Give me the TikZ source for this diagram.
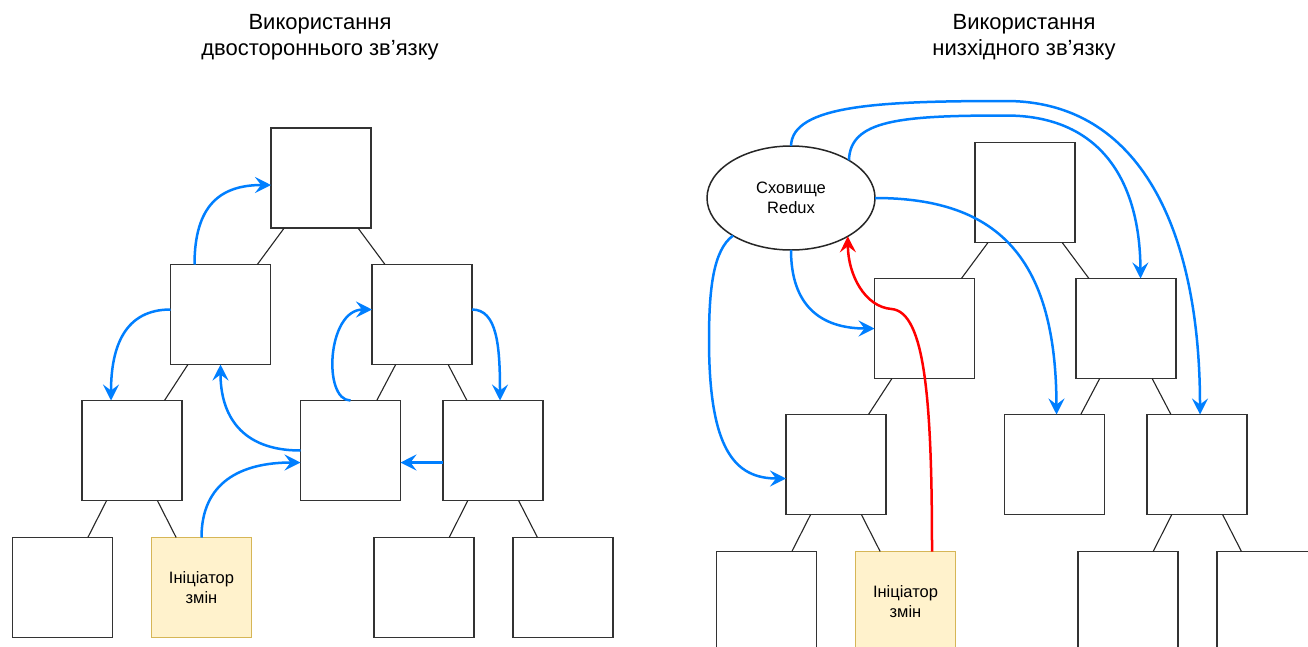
\documentclass[tikz,border=0pt]{standalone}
\usepackage{fontspec}
\setmainfont{Liberation Sans}
\usetikzlibrary{arrows.meta,calc,shapes.geometric}
\definecolor{flowblue}{HTML}{007FFF}
\definecolor{notefill}{HTML}{FFF2CC}
\definecolor{notedraw}{HTML}{D6B656}
\definecolor{boxline}{HTML}{333333}
\newcommand\ttlfont{\fontsize{22}{26.5}\selectfont}
\newcommand\ndfont{\fontsize{16.5}{20}\selectfont}
\begin{document}
\begin{tikzpicture}[x=1pt,y=-1pt,
  box/.style={draw=boxline, line width=1.6pt, fill=white, minimum width=100pt,
    minimum height=100pt, inner sep=0pt, outer sep=0pt},
  starter/.style={box, draw=notedraw, fill=notefill, font=\ndfont, align=center},
  store/.style={ellipse, draw=black!85, line width=1.5pt, fill=white,
    minimum width=168pt, minimum height=104pt, inner sep=0pt, outer sep=0pt,
    font=\ndfont, align=center},
  link/.style={draw=black!85, line width=1.1pt},
  flow/.style={draw=flowblue, line width=2.5pt,
    -{Stealth[length=16pt,width=16pt,inset=6pt]}},
  push/.style={flow, draw=red},
  heading/.style={align=center, font=\ttlfont},
]
\useasboundingbox (0,0) rectangle (1308,646);
\clip (0,0) rectangle (1308,646);
\fill[white] (0,0) rectangle (1308,646);

% ---------- headings ----------
\node[heading] (h1) at (320,37) {Використання\\двостороннього зв’язку};
\node[heading] (h2) at (1024,37) {Використання\\низхідного зв’язку};

% ---------- two-way binding tree ----------
\node[box] (t)  at (321,178) {};
\node[box] (l1) at (220.5,314.5) {};
\node[box] (r1) at (422,314.5) {};
\node[box] (ll) at (132,450.5) {};
\node[box] (m)  at (350.5,450.5) {};
\node[box] (rr) at (493,450.5) {};
\node[box] (b1) at (62.5,587.5) {};
\node[starter] (ini) at (201.5,587.5) {Ініціатор\\змін};
\node[box] (b3) at (424,587.5) {};
\node[box] (b4) at (563,587.5) {};

\draw[link] (t) -- (l1);
\draw[link] (t) -- (r1);
\draw[link] (l1) -- (ll);
\draw[link] (r1) -- (m);
\draw[link] (r1) -- (rr);
\draw[link] (ll) -- (b1);
\draw[link] (ll) -- (ini);
\draw[link] (rr) -- (b3);
\draw[link] (rr) -- (b4);

\draw[flow] ($(l1.north)+(-26,0)$) .. controls +(0,-60) and +(-50,0) .. ($(t.west)+(0,7)$);
\draw[flow] ($(l1.west)+(0,-5)$) .. controls +(-45,0) and +(0,-55) .. ($(ll.north)+(-21,0)$);
\draw[flow] (m.west) .. controls +(-60,0) and +(0,50) .. (l1.south);
\draw[flow] (ini.north) .. controls +(0,-55) and +(-60,0) .. ($(m.west)+(0,12)$);
\draw[flow] ($(rr.west)+(0,12)$) -- ($(m.east)+(0,12)$);
\draw[flow] (m.north) .. controls +(-28,0) and +(-45,0) .. ($(r1.west)+(0,-5)$);
\draw[flow] ($(r1.east)+(0,-5)$) .. controls +(25,0) and +(0,-55) .. ($(rr.north)+(7,0)$);

% ---------- top-down binding tree with a store ----------
\node[box] (tR)  at (1025,192.5) {};
\node[box] (l1R) at (924.5,328.5) {};
\node[box] (r1R) at (1126,328.5) {};
\node[box] (llR) at (836,464.5) {};
\node[box] (mR)  at (1054.5,464.5) {};
\node[box] (rrR) at (1197,464.5) {};
\node[box] (b1R) at (766.5,601.5) {};
\node[starter] (iniR) at (905.5,601.5) {Ініціатор\\змін};
\node[box] (b3R) at (1128,601.5) {};
\node[box] (b4R) at (1267,601.5) {};
\node[store] (st) at (791,198) {Сховище\\Redux};

\draw[link] (tR) -- (l1R);
\draw[link] (tR) -- (r1R);
\draw[link] (l1R) -- (llR);
\draw[link] (r1R) -- (mR);
\draw[link] (r1R) -- (rrR);
\draw[link] (llR) -- (b1R);
\draw[link] (llR) -- (iniR);
\draw[link] (rrR) -- (b3R);
\draw[link] (rrR) -- (b4R);

\coordinate (aTop) at (1006,101);
\coordinate (bTop) at (1006,115.5);
\coordinate (dMid) at (709,340);
\coordinate (fBend) at (891.6,309);

\draw[flow] (st.north) .. controls (792,105) and (880,101) .. (aTop)
  .. controls (1140,101) and (1200,230) .. ($(rrR.north)+(3,0)$);
\draw[flow] (st.33) .. controls (850,120) and (900,115.5) .. (bTop)
  .. controls (1100,115.5) and (1140,180) .. ($(r1R.north)+(14.5,0)$);
\draw[flow] (st.east) .. controls (1000,198) and (1056,260) .. ($(mR.north)+(2,0)$);
\draw[flow] (st.213) .. controls (713,250) and (709,290) .. (dMid)
  .. controls (709,450) and (735,478.5) .. ($(llR.west)+(0,14)$);
\draw[flow] (st.south) .. controls (791,305) and (820,328.5) .. (l1R.west);
\draw[push] ($(iniR.north)+(26.5,0)$) .. controls (932,400) and (925,312) .. (fBend)
  .. controls (865,307) and (848,275) .. (st.-34);
\end{tikzpicture}
\end{document}
